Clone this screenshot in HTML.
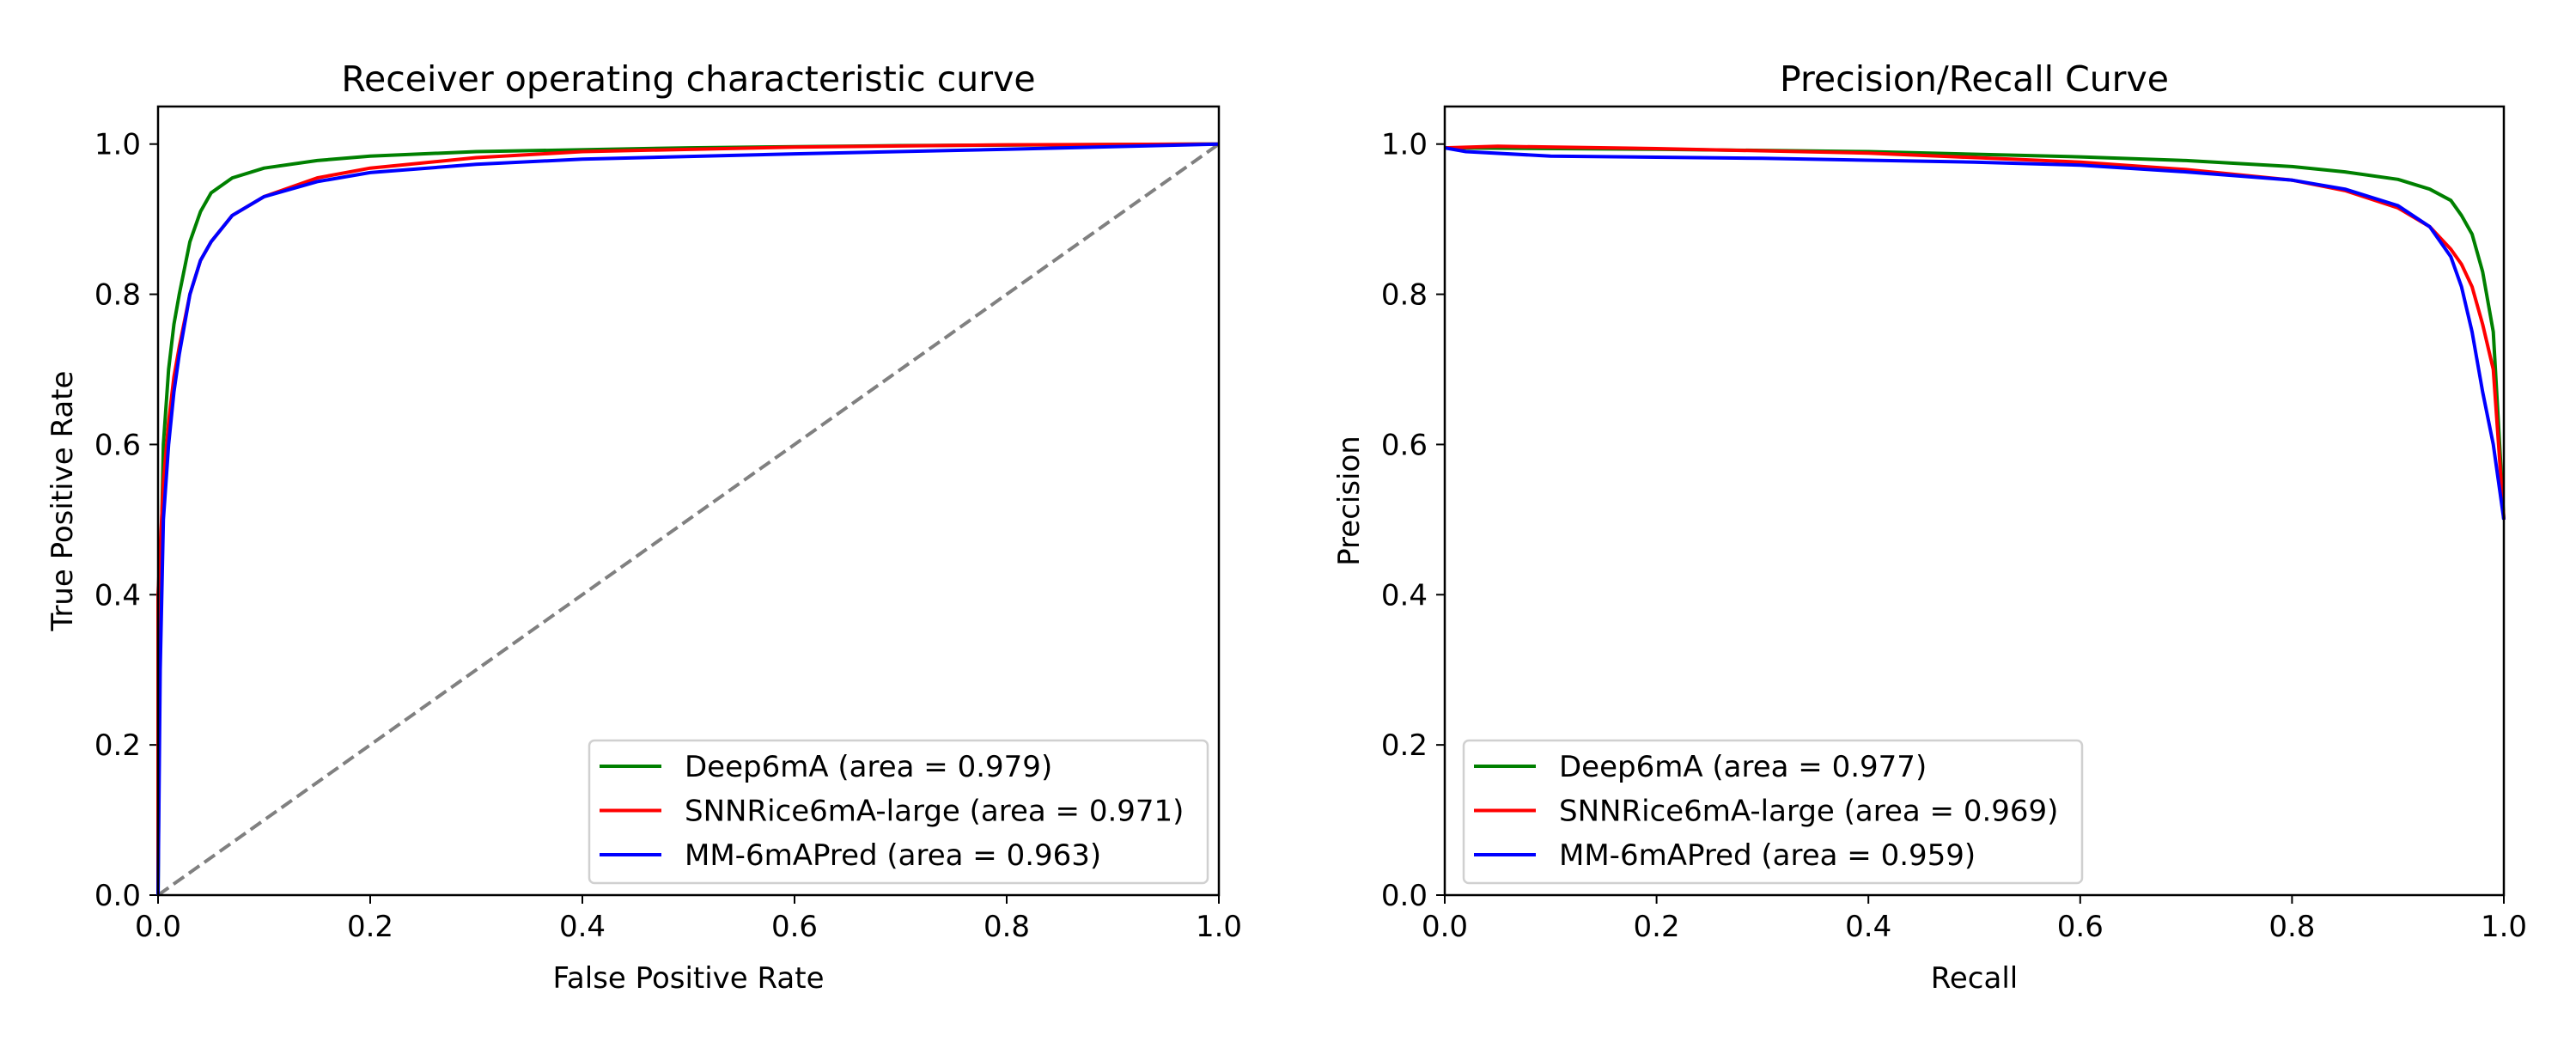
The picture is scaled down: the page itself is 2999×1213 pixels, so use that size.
<!DOCTYPE html>
<html><head><meta charset="utf-8"><style>
html,body{margin:0;padding:0;background:#fff;}
svg{display:block;font-family:"DejaVu Sans","Liberation Sans",sans-serif;}
</style></head><body>
<svg id="fig" width="2999" height="1213" viewBox="0 0 2999 1213"></svg>
<script>
const rocFprDeep=[0,0.002,0.005,0.01,0.015,0.02,0.03,0.04,0.05,0.07,0.1,0.15,0.2,0.3,0.5,0.7,1];
const rocTprDeep=[0,0.4,0.6,0.7,0.76,0.8,0.87,0.91,0.935,0.955,0.968,0.978,0.984,0.99,0.995,0.998,1];
const rocFprSnn=[0,0,0.005,0.01,0.015,0.02,0.03,0.04,0.05,0.07,0.1,0.15,0.2,0.3,0.4,0.6,0.8,1];
const rocTprSnn=[0,0.4,0.55,0.63,0.69,0.73,0.8,0.845,0.87,0.905,0.93,0.955,0.968,0.982,0.99,0.996,0.999,1];
const rocFprMm=[0,0.002,0.005,0.01,0.015,0.02,0.03,0.04,0.05,0.07,0.1,0.15,0.2,0.3,0.4,0.6,0.8,1];
const rocTprMm=[0,0.3,0.5,0.6,0.67,0.72,0.8,0.845,0.87,0.905,0.93,0.95,0.962,0.973,0.98,0.987,0.993,1];
const prRecDeep=[0,0.2,0.4,0.6,0.7,0.8,0.85,0.9,0.93,0.95,0.96,0.97,0.98,0.99,1];
const prPreDeep=[0.995,0.993,0.99,0.983,0.978,0.97,0.963,0.953,0.94,0.925,0.905,0.88,0.83,0.75,0.5];
const prRecSnn=[0,0.05,0.2,0.4,0.6,0.7,0.8,0.85,0.9,0.93,0.95,0.96,0.97,0.98,0.99,1];
const prPreSnn=[0.995,0.997,0.994,0.988,0.976,0.966,0.952,0.938,0.915,0.89,0.86,0.84,0.81,0.76,0.7,0.5];
const prRecMm=[0,0.02,0.1,0.3,0.5,0.6,0.7,0.8,0.85,0.9,0.93,0.95,0.96,0.97,0.98,0.99,1];
const prPreMm=[0.995,0.99,0.984,0.981,0.976,0.972,0.963,0.952,0.94,0.918,0.89,0.85,0.81,0.75,0.67,0.6,0.5];
const tickVals=[0,0.2,0.4,0.6,0.8,1.0];
const tickLabels=["0.0","0.2","0.4","0.6","0.8","1.0"];
const rocLegend=["Deep6mA (area = 0.979)","SNNRice6mA-large (area = 0.971)","MM-6mAPred (area = 0.963)"];
const prLegend=["Deep6mA (area = 0.977)","SNNRice6mA-large (area = 0.969)","MM-6mAPred (area = 0.959)"];
const colors=["#008000","#ff0000","#0000ff"];

const NS="http://www.w3.org/2000/svg";
const svg=document.getElementById('fig');
function mk(tag,attrs,parent,text){const e=document.createElementNS(NS,tag);for(const k in attrs)e.setAttribute(k,attrs[k]);if(text!==undefined)e.textContent=text;(parent||svg).appendChild(e);return e;}

function panel(L,R,T,B,name,title,xlab,ylab,series,legend,legX){
  const g=mk('g',{});
  
  
  const sx=v=>L+v*(R-L), sy=v=>B-v/1.05*(B-T);
  const t=mk('text',{x:(L+R)/2,y:106,'text-anchor':'middle','font-size':41},g,title);
  
  tickVals.forEach((v,i)=>{
    const tx=mk('line',{x1:sx(v),x2:sx(v),y1:B,y2:B+10,stroke:'#000','stroke-width':2},g);
    
    const xl=mk('text',{x:sx(v),y:B+48,'text-anchor':'middle','font-size':34},g,tickLabels[i]);
    
    const ty=mk('line',{x1:L-10,x2:L,y1:sy(v),y2:sy(v),stroke:'#000','stroke-width':2},g);
    
    const yl=mk('text',{x:L-20,y:sy(v)+12,'text-anchor':'end','font-size':34},g,tickLabels[i]);
    
  });
  const xt=mk('text',{x:(L+R)/2,y:1150,'text-anchor':'middle','font-size':34},g,xlab);
  
  const yt=mk('text',{x:0,y:0,'text-anchor':'middle','font-size':34,transform:`translate(${L-100},${(T+B)/2}) rotate(-90)`},g,ylab);
  
  if(name==='roc-chart'){
    const d=mk('line',{x1:sx(0),y1:sy(0),x2:sx(1),y2:sy(1),stroke:'#808080','stroke-width':4,'stroke-dasharray':'15,7'},g);
    
  }
  series.forEach((s,i)=>{
    const pts=s[0].map((x,j)=>sx(x).toFixed(1)+','+sy(s[1][j]).toFixed(1)).join(' ');
    const p=mk('polyline',{points:pts,fill:'none',stroke:colors[i],'stroke-width':4,'stroke-linejoin':'round'},g);
    
    
  });
  const fr=mk('rect',{x:L,y:T,width:R-L,height:B-T,fill:'none',stroke:'#000','stroke-width':2.5},g);
  
  const lg=mk('g',{},g);
  
  mk('rect',{x:legX,y:862,width:720,height:166,rx:6,fill:'#fff','fill-opacity':0.8,stroke:'#d0d0d0','stroke-width':2.5},lg);
  legend.forEach((lab,i)=>{
    const e=mk('g',{},lg);
    
    const cy=892+i*51.5;
    mk('line',{x1:legX+12,x2:legX+84,y1:cy,y2:cy,stroke:colors[i],'stroke-width':4},e);
    mk('text',{x:legX+111,y:cy+12,'font-size':34},e,lab);
  });
}
panel(184,1419,124,1042,'roc-chart','Receiver operating characteristic curve','False Positive Rate','True Positive Rate',
  [[rocFprDeep,rocTprDeep],[rocFprSnn,rocTprSnn],[rocFprMm,rocTprMm]],rocLegend,686);
panel(1682,2915,124,1042,'pr-chart','Precision/Recall Curve','Recall','Precision',
  [[prRecDeep,prPreDeep],[prRecSnn,prPreSnn],[prRecMm,prPreMm]],prLegend,1704);
</script>
</body></html>
